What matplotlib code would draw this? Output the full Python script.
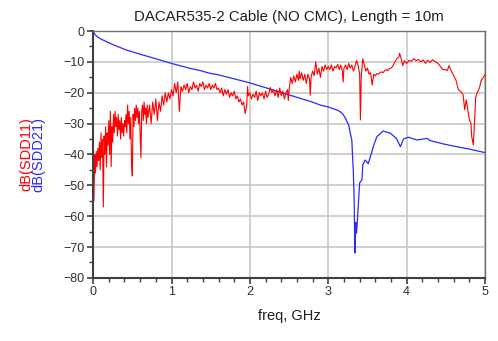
import numpy as np
import matplotlib
matplotlib.use("Agg")
import matplotlib.pyplot as plt
from matplotlib.ticker import MultipleLocator

plt.rcParams['font.family'] = ['Liberation Sans', 'DejaVu Sans']

# dB(SDD11)
sdd11_f = [
    0.00, 0.01, 0.02, 0.03, 0.04, 0.05, 0.06, 0.07, 0.08, 0.09,
    0.10, 0.11, 0.12, 0.13, 0.14, 0.15, 0.16, 0.17, 0.18, 0.19,
    0.20, 0.21, 0.22, 0.23, 0.24, 0.25, 0.26, 0.27, 0.28, 0.29,
    0.30, 0.31, 0.32, 0.33, 0.34, 0.35, 0.36, 0.37, 0.38, 0.39,
    0.40, 0.41, 0.42, 0.43, 0.44, 0.45, 0.46, 0.47, 0.48, 0.49,
    0.50, 0.51, 0.52, 0.53, 0.54, 0.55, 0.56, 0.57, 0.58, 0.59,
    0.60, 0.61, 0.62, 0.63, 0.64, 0.65, 0.66, 0.67, 0.68, 0.69,
    0.70, 0.72, 0.74, 0.76, 0.78, 0.80, 0.82, 0.84, 0.86, 0.88,
    0.90, 0.92, 0.94, 0.96, 0.98, 1.00, 1.02, 1.04, 1.06, 1.08,
    1.10, 1.12, 1.14, 1.16, 1.18, 1.20, 1.22, 1.24, 1.26, 1.28,
    1.30, 1.32, 1.34, 1.36, 1.38, 1.40, 1.42, 1.44, 1.46, 1.48,
    1.50, 1.52, 1.54, 1.56, 1.58, 1.60, 1.62, 1.64, 1.66, 1.68,
    1.70, 1.72, 1.74, 1.76, 1.78, 1.80, 1.82, 1.84, 1.86, 1.88,
    1.90, 1.92, 1.94, 1.96, 1.97, 1.98, 2.00, 2.02, 2.04, 2.06,
    2.08, 2.10, 2.12, 2.14, 2.16, 2.18, 2.20, 2.22, 2.24, 2.26,
    2.28, 2.30, 2.32, 2.34, 2.36, 2.38, 2.40, 2.42, 2.44, 2.46,
    2.48, 2.49, 2.50, 2.52, 2.54, 2.56, 2.58, 2.60, 2.62, 2.63,
    2.64, 2.66, 2.68, 2.70, 2.72, 2.74, 2.76, 2.77, 2.78, 2.80,
    2.82, 2.84, 2.86, 2.88, 2.90, 2.92, 2.94, 2.96, 2.98, 3.00,
    3.02, 3.04, 3.06, 3.08, 3.10, 3.12, 3.14, 3.16, 3.18, 3.19,
    3.20, 3.22, 3.24, 3.26, 3.28, 3.30, 3.32, 3.34, 3.36, 3.38,
    3.40, 3.41, 3.42, 3.44, 3.46, 3.48, 3.50, 3.52, 3.54, 3.56,
    3.58, 3.60, 3.62, 3.64, 3.66, 3.68, 3.70, 3.72, 3.74, 3.76,
    3.78, 3.80, 3.82, 3.84, 3.86, 3.88, 3.90, 3.91, 3.93, 3.95,
    3.97, 4.00, 4.03, 4.06, 4.09, 4.12, 4.15, 4.18, 4.21, 4.24,
    4.27, 4.30, 4.33, 4.36, 4.40, 4.43, 4.46, 4.49, 4.52, 4.54,
    4.57, 4.60, 4.63, 4.66, 4.69, 4.72, 4.74, 4.76, 4.78, 4.80,
    4.82, 4.83, 4.85, 4.865, 4.88, 4.90, 4.93, 4.95, 4.98, 5.00,
]
sdd11_db = [
    -37, -55, -40, -46, -39, -44, -38, -42, -36, -45,
    -33, -41, -35, -57, -34, -40, -31, -44, -33, -37,
    -29, -40, -26, -44, -31, -36, -27, -33, -26, -31,
    -28, -34, -27, -32, -29, -35, -28, -33, -30, -34,
    -29, -31, -27, -33, -24, -30, -26, -35, -28, -43,
    -47, -27, -31, -25, -29, -24, -28, -25, -30, -26,
    -34, -41, -26, -24, -29, -23, -27, -25, -30, -24,
    -28, -24, -30, -23, -27, -22, -29, -23, -26, -21,
    -24, -20, -23, -20, -22, -19, -21, -17, -20, -16.5,
    -26, -18, -19.5, -17.5, -19, -17, -20, -18, -19, -16.5,
    -18.5, -17.5, -19.5, -17, -18, -16.5, -19, -17.5, -18.5, -17,
    -19, -17.5, -18.5, -17, -19, -18.5, -20, -18.5, -21, -19,
    -20.5, -19, -21.5, -20, -21, -19.5, -22, -21, -23, -22,
    -24, -23, -26.7, -24, -18, -21, -20, -22, -20.5, -21.5,
    -19.5, -22.5, -20, -21, -20, -22, -19.5, -21.5, -20.5, -18.3,
    -20, -19, -21, -19, -21.5, -18.5, -21, -19.5, -22, -20,
    -19, -22.5, -19, -15, -17, -14.5, -16.5, -14, -16, -13,
    -15.5, -13.5, -16, -14, -17, -14, -15.5, -20.8, -15, -13,
    -14.5, -10, -14, -12, -15, -11.5, -13, -11, -12.5, -11.5,
    -12.5, -11, -13, -11.5, -12, -10.8, -12.5, -11, -13, -16.5,
    -12, -11, -12.5, -10.5, -12, -11, -13, -11.5, -9.6, -11,
    -14, -28.8, -15, -9, -11, -13, -12, -14, -13.5, -17.5,
    -14, -14.5, -13.8, -14, -13.5, -13.2, -13.5, -12.8, -12.5, -12.8,
    -12.2, -12, -11.5, -10.5, -9.6, -8.8, -8.5, -7.2, -9, -11.2,
    -9.6, -10.5, -9.5, -9.8, -9, -9.6, -9.2, -10, -9.4, -10.5,
    -9.5, -10.2, -9.3, -9.8, -10.5, -11.5, -12.5, -12.5, -12.8, -11.2,
    -13, -14.5, -16, -19, -19.6, -20.6, -25.5, -22.3, -25.5, -28.8,
    -29.9, -34.2, -36.9, -29.9, -21.6, -20, -18.3, -16, -15, -14,
]

# dB(SDD21)
sdd21_f = [
    0.00, 0.02, 0.05, 0.10, 0.20, 0.30, 0.43, 0.60, 0.855, 1.00,
    1.237, 1.365, 1.49, 1.60, 2.00, 2.50, 2.64, 2.77, 2.90, 3.00,
    3.11, 3.15, 3.19, 3.23, 3.26, 3.28, 3.30, 3.32, 3.33, 3.34,
    3.35, 3.36, 3.37, 3.40, 3.43, 3.44, 3.47, 3.51, 3.55, 3.58,
    3.62, 3.70, 3.79, 3.87, 3.92, 3.96, 4.02, 4.13, 4.26, 4.30,
    4.47, 4.64, 4.81, 5.00,
]
sdd21_db = [
    0.0, -1.0, -1.8, -2.6, -3.8, -4.9, -6.2, -7.5, -9.4, -10.5,
    -12.1, -12.8, -13.7, -14.2, -16.8, -20.7, -21.8, -22.8, -24.0, -24.6,
    -25.6, -26.1, -27.0, -28.8, -30.5, -33.0, -35.3, -46.0, -54.7, -71.9,
    -62.0, -65.5, -62.0, -49.2, -48.2, -43.4, -41.8, -43.0, -39.6, -37.0,
    -34.2, -32.4, -33.1, -34.8, -37.5, -35.0, -34.4, -35.3, -34.8, -35.5,
    -36.6, -37.5, -38.3, -39.4,
]

fig = plt.figure(figsize=(4.98, 3.41), dpi=100)
ax = fig.add_axes([0.187, 0.185, 0.787, 0.724])

ax.plot(sdd21_f, sdd21_db, color='#2a2aff', linewidth=0.9)
ax.plot(sdd11_f, sdd11_db, color='#ff0000', linewidth=0.8)

ax.set_xlim(0, 5)
ax.set_ylim(-80, 0)
ax.xaxis.set_major_locator(MultipleLocator(1))
ax.xaxis.set_minor_locator(MultipleLocator(0.2))
ax.yaxis.set_major_locator(MultipleLocator(10))
ax.yaxis.set_minor_locator(MultipleLocator(5))

ax.grid(True, which='major', color='#c8c8c8', linewidth=1.2)
ax.set_axisbelow(True)

for side in ['left', 'bottom']:
    ax.spines[side].set_color('#404040')
    ax.spines[side].set_linewidth(1.5)
for side in ['top', 'right']:
    ax.spines[side].set_color('#707070')
    ax.spines[side].set_linewidth(1.0)

ax.tick_params(which='major', direction='out', length=4, width=1.2,
               color='#404040', labelsize=9, labelcolor='#303030', pad=2)
ax.tick_params(which='minor', direction='out', length=3, width=1.0,
               color='#404040')

ax.set_title('DACAR535-2 Cable (NO CMC), Length = 10m', fontsize=10.8,
             color='#202020', pad=7)
ax.set_xlabel('freq, GHz', fontsize=10.5, color='#202020', labelpad=8)

fig.text(0.052, 0.547, 'dB(SDD11)', rotation=90, color='#ff0000',
         fontsize=10.5, ha='center', va='center')
fig.text(0.078, 0.547, 'dB(SDD21)', rotation=90, color='#2a2aff',
         fontsize=10.5, ha='center', va='center')

fig.savefig('out.png', dpi=100)
